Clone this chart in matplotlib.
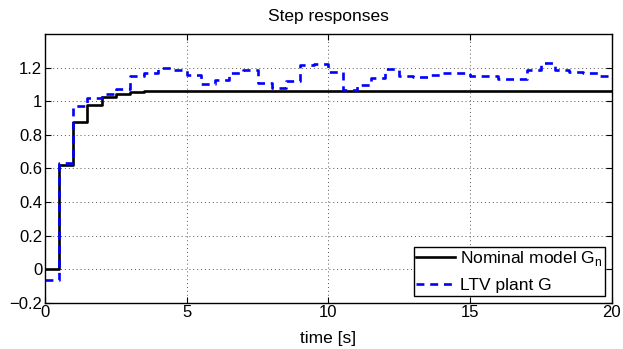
import matplotlib
matplotlib.use('Agg')
import matplotlib.pyplot as plt
import numpy as np

plt.rcParams['font.family'] = ['Liberation Sans', 'DejaVu Sans']
plt.rcParams['mathtext.fontset'] = 'custom'
plt.rcParams['mathtext.rm'] = 'Liberation Sans'

# sample instants (s), sample time 0.5 s
t = np.arange(0, 20.5, 0.5)

# nominal model G_n step response
y_nom = [0.0, 0.62, 0.877, 0.98, 1.026, 1.045, 1.055, 1.058, 1.059, 1.06,
         1.06, 1.06, 1.06, 1.06, 1.06, 1.06, 1.06, 1.06, 1.06, 1.06,
         1.06, 1.06, 1.06, 1.06, 1.06, 1.06, 1.06, 1.06, 1.06, 1.06,
         1.06, 1.06, 1.06, 1.06, 1.06, 1.06, 1.06, 1.06, 1.06, 1.06, 1.06]

# LTV plant G step response
y_ltv = [-0.065, 0.63, 0.97, 1.02, 1.04, 1.07, 1.148, 1.17, 1.196, 1.188,
         1.156, 1.10, 1.125, 1.17, 1.186, 1.106, 1.08, 1.12, 1.216, 1.22,
         1.172, 1.064, 1.096, 1.136, 1.192, 1.15, 1.144, 1.156, 1.166, 1.166,
         1.152, 1.148, 1.134, 1.13, 1.186, 1.226, 1.186, 1.174, 1.166, 1.152, 1.14]

fig = plt.figure(figsize=(6.23, 3.49), dpi=100)
ax = fig.add_axes([0.0722, 0.1327, 0.9098, 0.7699])

ax.step(t, y_nom, where='post', color='black', lw=1.9,
        label=r'Nominal model G$_{\mathregular{n}}$')
ax.step(t, y_ltv, where='post', color='#0000ff', lw=1.9, ls=(0, (3, 2.2)),
        label='LTV plant G')

ax.set_xlim(0, 20)
ax.set_ylim(-0.2, 1.4)
ax.set_xticks([0, 5, 10, 15, 20])
ax.set_yticks([-0.2, 0, 0.2, 0.4, 0.6, 0.8, 1, 1.2])
ax.set_yticklabels(['\u22120.2', '0', '0.2', '0.4', '0.6', '0.8', '1', '1.2'])
ax.grid(True, ls=(0, (1, 3)), color='#555555', lw=0.7)
ax.tick_params(direction='in', top=True, right=True, labelsize=12, length=4,
               width=0.8, pad=2)
for s in ax.spines.values():
    s.set_linewidth(1.0)

ax.set_title('Step responses', fontsize=12.5, pad=9)
ax.set_xlabel('time [s]', fontsize=12.5, labelpad=7.5)

leg = ax.legend(loc='lower right', fontsize=12.5, fancybox=False, framealpha=1,
                edgecolor='black', borderaxespad=0.4, handlelength=2.2,
                handletextpad=0.3, labelspacing=0.55, borderpad=0.15)
leg.get_frame().set_linewidth(1.0)

fig.savefig('out.png', dpi=100)
